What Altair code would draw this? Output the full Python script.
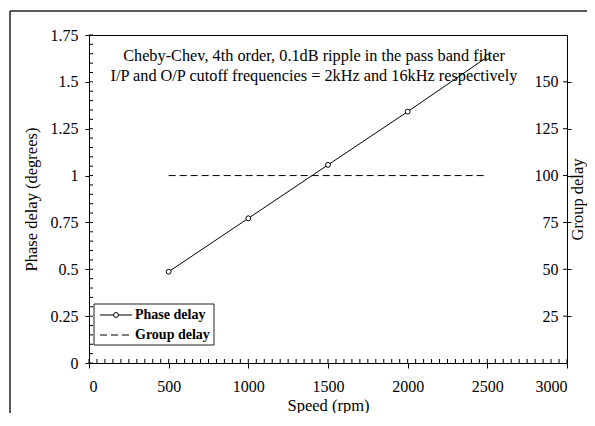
import altair as alt
import pandas as pd

# ---- data ----
speed = [500, 1000, 1500, 2000, 2500]
phase_delay = [0.487, 0.772, 1.057, 1.341, 1.633]
group_delay = [100, 100, 100, 100, 100]
series_names = ["Phase delay", "Group delay"]
x_ticks = [0, 500, 1000, 1500, 2000, 2500, 3000]
x_minor = list(range(0, 3001, 50))
y_left_ticks = [0, 0.25, 0.5, 0.75, 1, 1.25, 1.5, 1.75]
y_left_minor = [round(i * 0.05, 2) for i in range(36)]
y_right_ticks = [25, 50, 75, 100, 125, 150]
annotation = [
    "Cheby-Chev, 4th order, 0.1dB ripple in the pass band filter",
    "I/P and O/P cutoff frequencies = 2kHz and 16kHz respectively",
]

df = pd.DataFrame({"speed": speed, "phase": phase_delay, "group": group_delay})
one = pd.DataFrame({"k": [0]})

W, H = 478, 328
FONT = "Liberation Serif"

x_scale = alt.Scale(domain=[0, 3000], nice=False)
yl_scale = alt.Scale(domain=[0, 1.75], nice=False)
yr_scale = alt.Scale(domain=[0, 175], nice=False)

phase_line = alt.Chart(df).mark_line(color="black", strokeWidth=1).encode(
    x=alt.X("speed:Q", scale=x_scale,
            axis=alt.Axis(values=x_ticks, labelExpr="format(datum.value, 'd')",
                          title="Speed (rpm)", tickSize=5, labelPadding=10,
                          titleY=47, titleBaseline="alphabetic", grid=False, domain=False)),
    y=alt.Y("phase:Q", scale=yl_scale,
            axis=alt.Axis(values=y_left_ticks, labelExpr="format(datum.value, '~g')",
                          title="Phase delay (degrees)", tickSize=4, labelPadding=7,
                          titleX=-58, titleBaseline="middle", grid=False, domain=False)),
)
phase_pts = alt.Chart(df).mark_point(
    shape="circle", size=24, filled=True, fill="white", stroke="black", strokeWidth=1, opacity=1
).encode(x=alt.X("speed:Q", scale=x_scale),
         y=alt.Y("phase:Q", scale=yl_scale, axis=None))

group_line = alt.Chart(df).mark_line(color="black", strokeWidth=1, strokeDash=[7, 4]).encode(
    x=alt.X("speed:Q", scale=x_scale),
    y=alt.Y("group:Q", scale=yr_scale,
            axis=alt.Axis(orient="right", values=y_right_ticks, title="Group delay",
                          labelAlign="right", labelPadding=-13, tickSize=4,
                          titleX=10, titleBaseline="middle", titleAngle=270,
                          grid=False, domain=False)),
)

x_minor_ticks = alt.Chart(pd.DataFrame({"speed": x_minor})).mark_rule(color="black", strokeWidth=1).encode(
    x=alt.X("speed:Q", scale=x_scale), y=alt.value(H), y2=alt.value(H - 4))
y_minor_ticks = alt.Chart(pd.DataFrame({"v": y_left_minor})).mark_rule(color="black", strokeWidth=1).encode(
    y=alt.Y("v:Q", scale=yl_scale, axis=None), x=alt.value(0), x2=alt.value(4))
r_ticks = alt.Chart(pd.DataFrame({"v": y_right_ticks})).mark_rule(color="black", strokeWidth=1).encode(
    y=alt.Y("v:Q", scale=yr_scale, axis=None), x=alt.value(W - 4), x2=alt.value(W))

frame_top = alt.Chart(one).mark_rule(color="#222222", strokeWidth=1.5).encode(
    x=alt.value(-79), x2=alt.value(900), y=alt.value(-24))
frame_left = alt.Chart(one).mark_rule(color="#222222", strokeWidth=1.5).encode(
    x=alt.value(-79), y=alt.value(-24), y2=alt.value(900))

note = alt.Chart(one).mark_text(font=FONT, fontSize=16.3, align="center", baseline="alphabetic",
                                lineHeight=20, color="black").encode(
    x=alt.value(225), y=alt.value(26), text=alt.value(annotation))

leg_box = alt.Chart(one).mark_rect(fill="white", stroke="#222222", strokeWidth=1).encode(
    x=alt.value(5), x2=alt.value(125), y=alt.value(269), y2=alt.value(310))
leg_l1 = alt.Chart(one).mark_rule(color="black", strokeWidth=1).encode(
    x=alt.value(11), x2=alt.value(43), y=alt.value(280))
leg_p1 = alt.Chart(one).mark_point(shape="circle", size=24, filled=True, fill="white",
                                   stroke="black", strokeWidth=1, opacity=1).encode(
    x=alt.value(27), y=alt.value(280))
leg_l2 = alt.Chart(one).mark_rule(color="black", strokeWidth=1, strokeDash=[7, 4]).encode(
    x=alt.value(11), x2=alt.value(43), y=alt.value(300))
leg_t1 = alt.Chart(one).mark_text(font=FONT, fontSize=14, fontWeight="bold", align="left",
                                  baseline="middle", color="black").encode(
    x=alt.value(46), y=alt.value(280), text=alt.value(series_names[0]))
leg_t2 = alt.Chart(one).mark_text(font=FONT, fontSize=14, fontWeight="bold", align="left",
                                  baseline="middle", color="black").encode(
    x=alt.value(46), y=alt.value(300), text=alt.value(series_names[1]))

chart = (
    alt.layer(phase_line, group_line, phase_pts, x_minor_ticks, y_minor_ticks, r_ticks,
              frame_top, frame_left, note,
              leg_box, leg_l1, leg_p1, leg_l2, leg_t1, leg_t2)
    .resolve_scale(y="independent")
    .properties(width=W, height=H,
                padding={"left": 81, "top": 27, "right": 20, "bottom": 50},
                autosize=alt.AutoSizeParams(type="none"))
    .configure_view(stroke="black", strokeWidth=1)
    .configure_axis(labelFont=FONT, titleFont=FONT, labelFontSize=16, titleFontSize=16.5,
                    labelColor="black", titleColor="black", tickColor="black",
                    titleFontWeight="normal")
)

chart.save("out.html", embed_options={"renderer": "svg", "actions": False})
